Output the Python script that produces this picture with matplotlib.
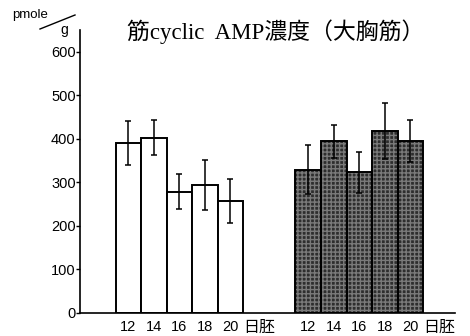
import matplotlib.pyplot as plt
import matplotlib.lines as mlines
import numpy as np

# embryonic day, cyclic AMP (pmole/g), two groups
days = ['12', '14', '16', '18', '20']
white_vals = [390, 403, 279, 294, 257]
white_err = [50, 40, 40, 58, 50]
dark_vals = [329, 394, 323, 418, 395]
dark_err = [56, 38, 48, 64, 49]
yticks = [0, 100, 200, 300, 400, 500, 600]

cjk = ['Noto Sans CJK JP', 'DejaVu Sans']

fig = plt.figure(figsize=(4.7, 3.36), dpi=100)
ax = fig.add_axes([0.170, 0.0685, 0.798, 0.842])

xl = np.arange(len(days)) + 1.9
xr = np.arange(len(days)) + 8.95

# white bars
ax.bar(xl, white_vals, width=1.0, color='white', edgecolor='black', linewidth=1.4, zorder=2)
ax.errorbar(xl, white_vals, yerr=white_err, fmt='none', ecolor='black',
            elinewidth=1.1, capsize=2, capthick=1.1, zorder=3)

# dark stippled bars
ax.bar(xr, dark_vals, width=1.0, color='#2e2e2e', edgecolor='#7a7a7a', hatch='++++',
       linewidth=0, zorder=2)
ax.bar(xr, dark_vals, width=1.0, fill=False, edgecolor='black', linewidth=1.4, zorder=2.5)
ax.errorbar(xr, dark_vals, yerr=dark_err, fmt='none', ecolor='black',
            elinewidth=1.1, capsize=2, capthick=1.1, zorder=3)

ax.set_xlim(0, 14.7)
ax.set_ylim(0, 650)

ax.spines['top'].set_visible(False)
ax.spines['right'].set_visible(False)
ax.spines['left'].set_linewidth(1.2)
ax.spines['bottom'].set_linewidth(1.2)

ax.set_yticks(yticks)
ax.set_yticklabels([str(v) for v in yticks], family='Liberation Sans', fontsize=10.5)
ax.tick_params(axis='y', direction='out', length=3, width=1, pad=0)

ax.set_xticks(list(xl) + list(xr))
ax.set_xticklabels(days + days, family='Liberation Sans', fontsize=10.5)
ax.tick_params(axis='x', length=0, pad=5)

# unit 日胚 after the last label of each group
for xe in (xl[-1], xr[-1]):
    ax.text(xe + 0.5, -0.068, '日胚', transform=ax.get_xaxis_transform(),
            ha='left', va='baseline', family=cjk, fontsize=11.5)

fig.text(0.587, 0.905, '筋cyclic  AMP濃度（大胸筋）', ha='center', va='center',
         family=['Liberation Serif', 'Noto Sans CJK JP'], fontsize=16.5)

# pmole / g unit
fig.text(0.026, 0.955, 'pmole', ha='left', va='center', family='Liberation Sans', fontsize=9.5)
fig.add_artist(mlines.Line2D([40 / 470, 75 / 470], [1 - 29 / 336, 1 - 15 / 336],
                             color='black', linewidth=1.0))
fig.text(0.136, 0.912, 'g', ha='center', va='center', family='Liberation Sans', fontsize=10)

fig.savefig('out.png', dpi=100)
